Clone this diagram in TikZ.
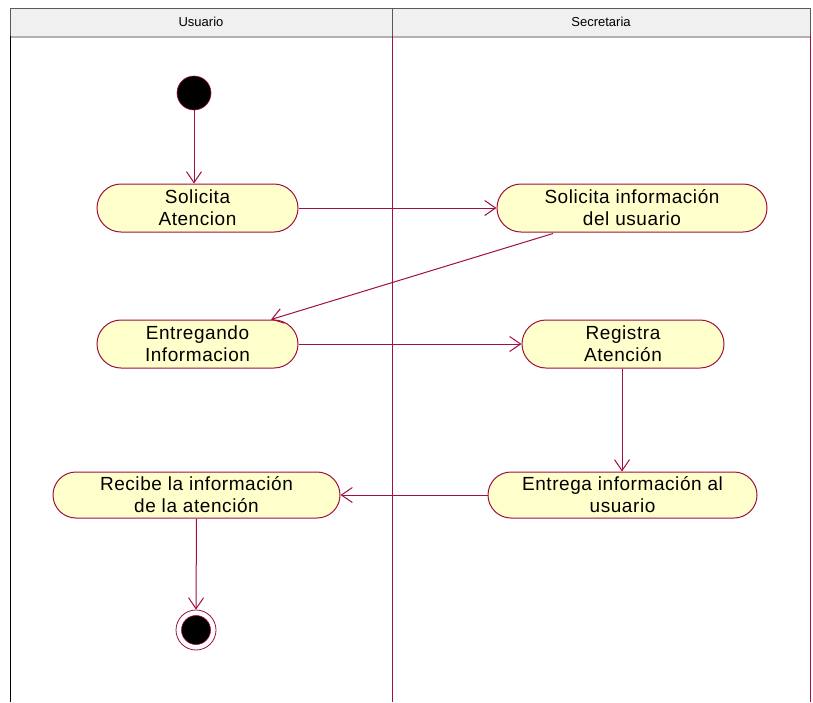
\documentclass[tikz,border=0pt]{standalone}
\usepackage{fontspec}
\setmainfont{Liberation Sans}
\newfontfamily\nodefont[LetterSpace=3]{Liberation Sans}
\usetikzlibrary{shapes.misc,arrows.meta,calc}
\definecolor{umlred}{RGB}{160,16,64}
\definecolor{umlfill}{RGB}{255,255,204}
\definecolor{hdrfill}{RGB}{240,240,240}
\tikzset{
  activity/.style={rounded rectangle, draw=umlred, fill=umlfill, line width=1pt,
    minimum height=48pt, inner sep=0pt, align=center,
    font=\nodefont\fontsize{19}{22}\selectfont},
  flow/.style={draw=umlred, line width=1pt,
    -{Straight Barb[length=11pt,width=15pt,line width=1pt]}},
  lane/.style={draw=umlred, line width=1pt},
  header/.style={draw=gray!70!black, fill=hdrfill, line width=1pt, minimum height=28pt,
    inner sep=0pt, font=\fontsize{13}{15}\selectfont},
}
\begin{document}
\begin{tikzpicture}[x=1pt,y=-1pt]
\useasboundingbox (0,0) rectangle (813,702);
\fill[white] (0,0) rectangle (813,702);
% headers
\node[header, minimum width=382pt] (husr) at (201,22) {Usuario};
\node[header, minimum width=418pt] (hsec) at (601,22) {Secretaria};
\draw[gray!60, line width=1.5pt] (10,37) -- (810,37);
% lanes
\draw[black, line width=1pt] (10,36) -- (10,702);
\draw[lane] (392,36) -- (392,702);
\draw[lane] (810,36) -- (810,702);
% start
\node[circle, fill=black, draw=umlred, line width=0.6pt, minimum size=34pt, inner sep=0pt] (start) at (194,93) {};
% activities
\node[activity, minimum width=201pt] (sa) at (197.5,208) {Solicita\\Atencion};
\node[activity, minimum width=270pt] (si) at (632,208) {Solicita información\\del usuario};
\node[activity, minimum width=201pt] (ei) at (197.5,344) {Entregando\\Informacion};
\node[activity, minimum width=202pt] (ra) at (623,344) {Registra\\Atención};
\node[activity, minimum width=269pt, minimum height=46pt] (en) at (622.5,495) {Entrega información al\\usuario};
\node[activity, minimum width=287pt, minimum height=46pt] (rc) at (196.5,495) {Recibe la información\\de la atención};
% final
\node[circle, draw=umlred, fill=white, line width=0.8pt, minimum size=40pt, inner sep=0pt] (fin) at (196,630) {};
\node[circle, fill=black, draw=umlred, line width=0.6pt, minimum size=29pt, inner sep=0pt] (fininner) at (fin.center) {};
% flows
\draw[flow] (start.south) -- (start.south |- sa.north);
\draw[flow] (sa.east) -- (si.west);
\draw[flow] ($(si.south)+(-79,1)$) -- ($(ei.north east)+(-3,0)$);
\draw[flow] (ei.east) -- (ra.west);
\draw[flow] (ra.south -| 622,0) -- (en.north -| 622,0);
\draw[flow] (en.west) -- (rc.east);
\draw[flow] (rc.south) -- (fin.north);
\end{tikzpicture}
\end{document}
